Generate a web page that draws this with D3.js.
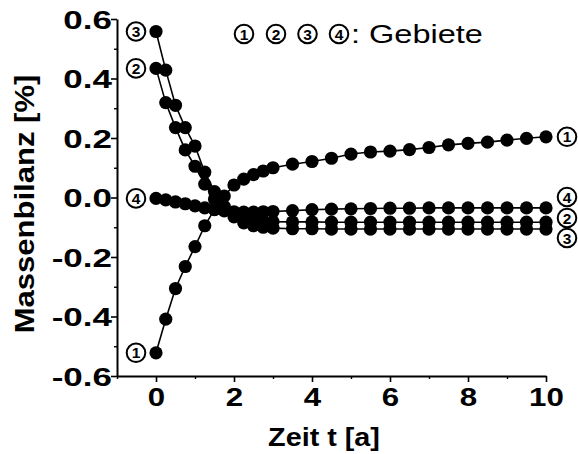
<!DOCTYPE html>
<html>
<head>
<meta charset="utf-8">
<script src="https://cdn.jsdelivr.net/npm/d3@7"></script>
<style>
  body { margin: 0; background: #fff; }
  svg { display: block; }
</style>
</head>
<body>
<svg id="chart" width="578" height="454"></svg>
<script>
// Zeitpunkte [a]: 0..3 in 0.25er-Schritten, danach 0.5er-Schritte bis 10
const zeit = [0, 0.25, 0.5, 0.75, 1.0, 1.25, 1.5, 1.75, 2.0, 2.25, 2.5, 2.75, 3.0,
              3.5, 4.0, 4.5, 5.0, 5.5, 6.0, 6.5, 7.0, 7.5, 8.0, 8.5, 9.0, 9.5, 10.0];

// Massenbilanz [%] je Gebiet
const gebiet1 = [-0.522, -0.409, -0.306, -0.232, -0.165, -0.095, -0.040, 0.005, 0.042, 0.062, 0.077, 0.089, 0.100,
                 0.112, 0.121, 0.132, 0.146, 0.153, 0.156, 0.161, 0.168, 0.177, 0.182, 0.186, 0.193, 0.199, 0.204];
const gebiet2 = [0.434, 0.319, 0.235, 0.160, 0.105, 0.045, -0.005, -0.035, -0.055, -0.068, -0.075, -0.079, -0.081,
                 -0.082, -0.082, -0.083, -0.083, -0.083, -0.083, -0.083, -0.083, -0.083, -0.083, -0.083, -0.083, -0.083, -0.083];
const gebiet3 = [0.558, 0.428, 0.310, 0.235, 0.173, 0.085, 0.020, -0.030, -0.065, -0.085, -0.095, -0.100, -0.103,
                 -0.105, -0.105, -0.106, -0.106, -0.106, -0.106, -0.106, -0.106, -0.106, -0.106, -0.106, -0.106, -0.106, -0.106];
const gebiet4 = [-0.003, -0.008, -0.015, -0.021, -0.028, -0.035, -0.041, -0.045, -0.048, -0.049, -0.049, -0.048, -0.047,
                 -0.044, -0.041, -0.039, -0.038, -0.037, -0.036, -0.036, -0.035, -0.035, -0.035, -0.035, -0.035, -0.035, -0.035];

const gebietNummern = ["1", "2", "3", "4"];
const xTicks = [0, 2, 4, 6, 8, 10];
const xMinorTicks = [-1, 1, 3, 5, 7, 9];
const yTicks = [-0.6, -0.4, -0.2, 0.0, 0.2, 0.4, 0.6];
const yMinorTicks = [-0.5, -0.3, -0.1, 0.1, 0.3, 0.5];

const svg = d3.select("#chart");
const FONT = "'Liberation Sans', Arial, Helvetica, sans-serif";

const x = d3.scaleLinear().domain([-1, 10]).range([117, 546]);
const y = d3.scaleLinear().domain([-0.6, 0.6]).range([376, 19]);

// Achsen
function styleAxis(g) {
  g.select(".domain").attr("stroke", "#000").attr("stroke-width", 2);
  g.selectAll(".tick line").attr("stroke", "#000").attr("stroke-width", 1.6);
}

const xAxis = svg.append("g").attr("transform", `translate(0,${y(-0.6)})`)
  .call(d3.axisBottom(x).tickValues(xTicks).tickSize(6).tickSizeOuter(0)
        .tickFormat(d => String(d)));
styleAxis(xAxis);
svg.append("g").attr("transform", `translate(0,${y(-0.6)})`)
  .call(d3.axisBottom(x).tickValues(xMinorTicks).tickSize(3).tickSizeOuter(0).tickFormat(""))
  .call(g => { g.select(".domain").remove(); g.selectAll(".tick line").attr("stroke", "#000").attr("stroke-width", 1.4); });

const sxX = 1.25;
xAxis.selectAll(".tick text")
  .attr("font-family", FONT).attr("font-weight", "bold").attr("font-size", 25).attr("fill", "#000")
  .attr("dy", "0.72em").attr("y", 12)
  .attr("transform", `scale(${sxX},1)`);

const yAxis = svg.append("g").attr("transform", `translate(${x(-1)},0)`)
  .call(d3.axisLeft(y).tickValues(yTicks).tickSize(6).tickSizeOuter(0)
        .tickFormat(d => d.toFixed(1)));
styleAxis(yAxis);
svg.append("g").attr("transform", `translate(${x(-1)},0)`)
  .call(d3.axisLeft(y).tickValues(yMinorTicks).tickSize(3).tickSizeOuter(0).tickFormat(""))
  .call(g => { g.select(".domain").remove(); g.selectAll(".tick line").attr("stroke", "#000").attr("stroke-width", 1.4); });

const sxY = 1.4;
yAxis.selectAll(".tick text")
  .attr("font-family", FONT).attr("font-weight", "bold").attr("font-size", 25).attr("fill", "#000")
  .attr("x", -5 / sxY).attr("dy", "0.36em")
  .attr("transform", `scale(${sxY},1)`);

// Achsentitel
svg.append("text")
  .attr("transform", `translate(324,446) scale(1.15,1)`)
  .attr("text-anchor", "middle")
  .attr("font-family", FONT).attr("font-weight", "bold").attr("font-size", 25)
  .text("Zeit t [a]");

svg.append("text")
  .attr("transform", `translate(34,204) rotate(-90) scale(1.15,1)`)
  .attr("text-anchor", "middle")
  .attr("font-family", FONT).attr("font-weight", "bold").attr("font-size", 27)
  .text("Massenbilanz [%]");

// Kurven
const serien = [gebiet1, gebiet2, gebiet3, gebiet4];
const line = d3.line().x((d, i) => x(zeit[i])).y(d => y(d));

const plot = svg.append("g");
serien.forEach(werte => {
  plot.append("path").datum(werte)
    .attr("d", line).attr("fill", "none").attr("stroke", "#000").attr("stroke-width", 1.6);
});
serien.forEach(werte => {
  plot.selectAll(null).data(werte).join("circle")
    .attr("cx", (d, i) => x(zeit[i])).attr("cy", d => y(d)).attr("r", 6.6).attr("fill", "#000");
});

// Eingekreiste Gebietsnummer
function kreisNummer(cx, cy, nr) {
  const g = svg.append("g").attr("transform", `translate(${cx},${cy})`);
  g.append("circle").attr("r", 9.3).attr("fill", "#fff").attr("stroke", "#000").attr("stroke-width", 2);
  g.append("text")
    .attr("text-anchor", "middle").attr("y", 5.6)
    .attr("font-family", FONT).attr("font-weight", "bold").attr("font-size", 15.5)
    .text(nr);
}

// Kennzeichnung am Kurvenanfang
serien.forEach((werte, k) => kreisNummer(x(zeit[0]) - 20, y(werte[0]), gebietNummern[k]));
// Kennzeichnung am Kurvenende, vertikal entzerrt
const endY = [y(gebiet1[gebiet1.length - 1]), 218, 238, 197];
serien.forEach((werte, k) => kreisNummer(x(10) + 21, endY[k], gebietNummern[k]));

// Legende
const legX = [244, 276, 307.5, 339];
gebietNummern.forEach((nr, k) => kreisNummer(legX[k], 34, nr));
svg.append("text")
  .attr("transform", "translate(351,43) scale(1.3,1)")
  .attr("font-family", FONT).attr("font-size", 25)
  .text(": Gebiete");
</script>
</body>
</html>
